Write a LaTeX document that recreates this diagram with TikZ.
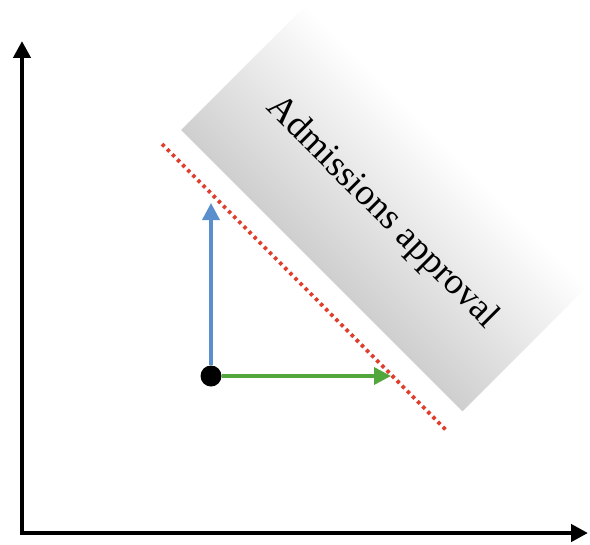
\documentclass[tikz,border=0pt]{standalone}
\usepackage{fontspec}
\setmainfont{Liberation Serif}
\usetikzlibrary{arrows.meta}
\definecolor{vecblue}{RGB}{91,142,204}
\definecolor{vecgreen}{RGB}{82,167,60}
\definecolor{linered}{RGB}{224,62,45}
\begin{document}
\begin{tikzpicture}[x=0.02cm,y=-0.02cm,
        axis/.style={line width=0.085cm,{Triangle[width=0.34cm,length=0.34cm]}-{Triangle[width=0.34cm,length=0.34cm]}},
        vec/.style={line width=0.07cm,-{Triangle[width=0.34cm,length=0.34cm]}}]
        \useasboundingbox(0,0)rectangle(590,544);
        \coordinate(O)at(22,533);
        \coordinate(Y)at(22,41);
        \coordinate(X)at(588,533);
        \coordinate(L1)at(162,144);
        \coordinate(L2)at(448,432);
        \coordinate(U)at(211,203);
        \coordinate(R)at(391,376);
        \begin{scope}[transform canvas={shift={(181,130)},rotate=-45}]
            \shade[top color=white,bottom color=black!19](0,0)rectangle(398,-177);
        \end{scope}
        \node[rotate=-45,font=\fontsize{21}{24}\selectfont](T)at(382,213){Admissions approval};
        \draw[axis](Y)--(O)--(X);
        \draw[linered,line width=0.075cm,dash pattern=on 0.07cm off 0.075cm](L1)--(L2);
        \node[circle,fill,inner sep=0,minimum size=0.42cm](P)at(211,376){};
        \draw[vec,vecblue](P)--(U);
        \draw[vec,vecgreen](P)--(R);
    \end{tikzpicture}
\end{document}
